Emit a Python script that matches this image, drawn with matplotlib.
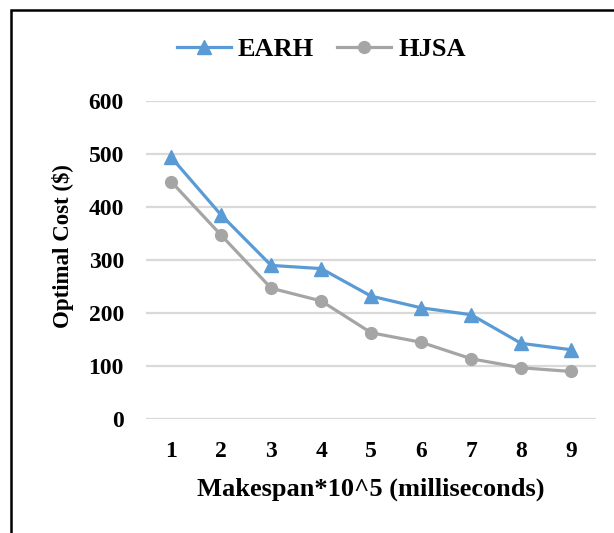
import matplotlib.pyplot as plt
from matplotlib.patches import Rectangle

makespan = [1, 2, 3, 4, 5, 6, 7, 8, 9]
earh = [494, 385, 290, 284, 232, 210, 197, 143, 131]
hjsa = [448, 347, 247, 223, 163, 145, 114, 97, 90]
yticks = [0, 100, 200, 300, 400, 500, 600]

plt.rcParams['font.family'] = ['Liberation Serif', 'DejaVu Serif']
plt.rcParams['font.weight'] = 'bold'

fig = plt.figure(figsize=(6.14, 5.33), dpi=100)
ax = fig.add_axes([0.238, 0.2135, 0.733, 0.597])

# outer frame: only left and top edges are visible in the reference
fig.patches.append(Rectangle((0.0182, -0.2), 1.2, 1.181, transform=fig.transFigure,
                             fill=False, edgecolor='black', linewidth=1.8))

ax.plot(makespan, earh, color='#5B9BD5', lw=2.3, marker='^', ms=9.5, label='EARH')
ax.plot(makespan, hjsa, color='#A5A5A5', lw=2.3, marker='o', ms=8.5, label='HJSA')

ax.set_xlim(0.5, 9.5)
ax.set_ylim(0, 600)
ax.set_xticks(makespan)
ax.set_yticks(yticks)
ax.grid(axis='y', color='#d9d9d9', lw=1.6)
ax.set_axisbelow(True)
for s in ax.spines.values():
    s.set_visible(False)
ax.tick_params(length=0)
ax.tick_params(axis='y', pad=16, labelsize=17)
ax.tick_params(axis='x', pad=16, labelsize=17)

ax.set_xlabel('Makespan*10^5 (milliseconds)', fontsize=19, fontweight='bold', labelpad=11)
ax.set_ylabel('Optimal Cost ($)', fontsize=16.5, fontweight='bold')
ax.yaxis.set_label_coords(-0.16, 0.543)

fig.legend(loc='center', bbox_to_anchor=(0.523, 0.908), ncol=2, frameon=False,
           fontsize=19, handlelength=2.05, columnspacing=0.9, handletextpad=0.25)

fig.savefig('out.png', dpi=100)
